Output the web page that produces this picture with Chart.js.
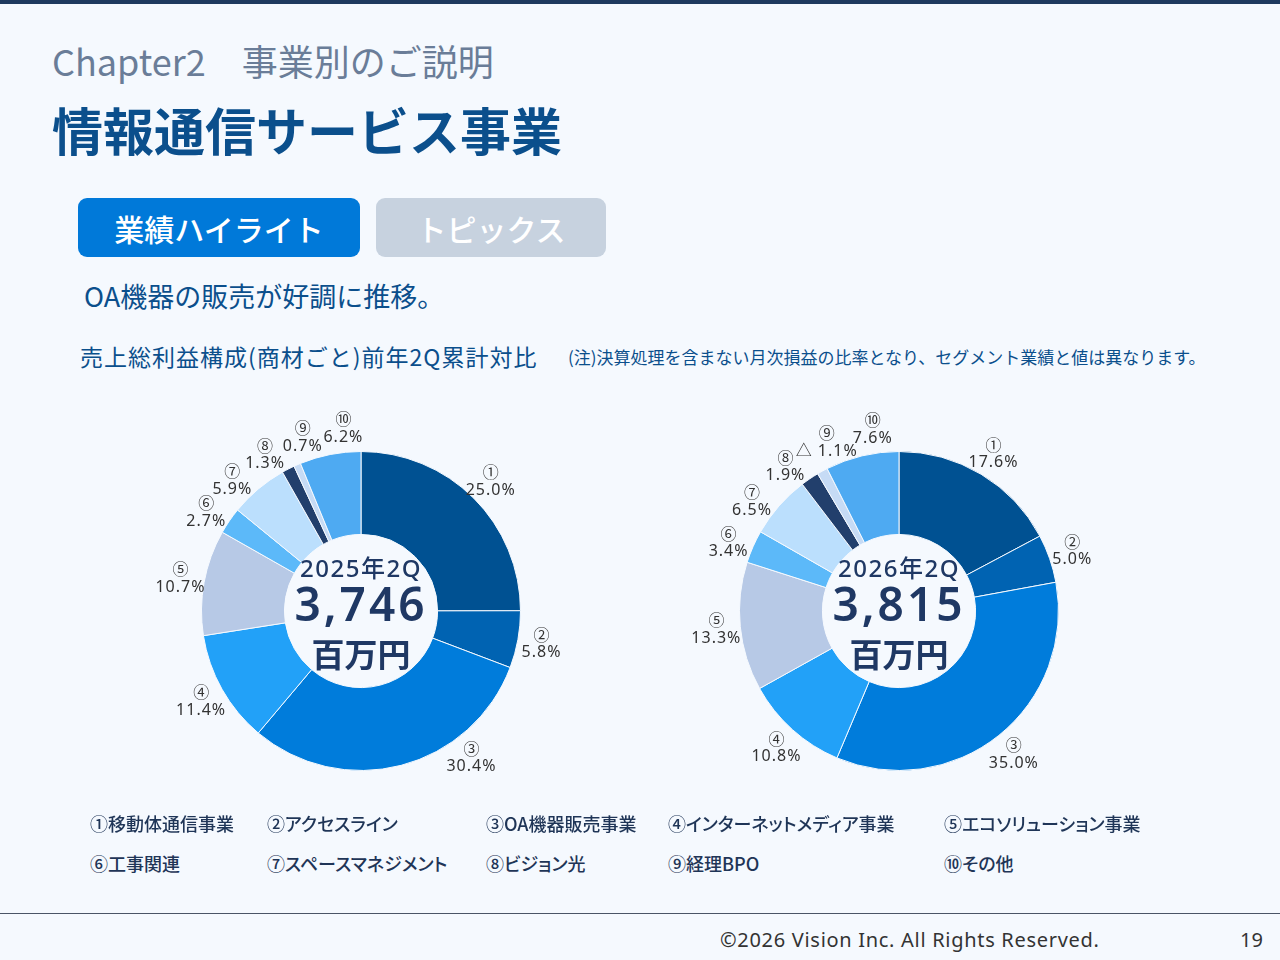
<!DOCTYPE html>
<html lang="ja">
<head>
<meta charset="UTF-8">
<title>情報通信サービス事業</title>
<script src="https://cdn.jsdelivr.net/npm/chart.js"></script>
<style>
    html, body {
        margin: 0;
        padding: 0;
    }
    body {
        width: 1280px;
        height: 960px;
        position: relative;
        overflow: hidden;
        background: #F5F9FE;
        font-family: "Noto Sans CJK JP", "Noto Sans", sans-serif;
    }
    .topline {
        position: absolute;
        left: 0;
        top: 0;
        width: 1280px;
        height: 4px;
        background: #1E3A5F;
    }
    .abs {
        position: absolute;
        white-space: nowrap;
        line-height: 1;
    }
    .chapter {
        left: 52px;
        top: 42px;
        font-size: 36px;
        color: #6A7D98;
    }
    .title {
        left: 52px;
        top: 104px;
        font-size: 51px;
        font-weight: bold;
        color: #0B4F8C;
    }
    .tab {
        top: 198px;
        height: 59px;
        border-radius: 9px;
        color: #FFFFFF;
        font-size: 30px;
        font-weight: 500;
        display: flex;
        align-items: center;
        justify-content: center;
    }
    .tab.on { left: 78px; width: 282px; background: #0079D9; }
    .tab.off { left: 376px; width: 230px; background: #C7D2DF; }
    .lead {
        left: 84px;
        top: 282px;
        font-size: 27px;
        color: #0B4F8C;
    }
    .sub {
        left: 80px;
        top: 345px;
        font-size: 23px;
        letter-spacing: 1px;
        color: #0B4F8C;
    }
    .note {
        left: 568px;
        top: 348px;
        font-size: 17px;
        color: #0B4F8C;
    }
    .chartbox {
        position: absolute;
        top: 411px;
        width: 480px;
        height: 400px;
    }
    .legend {
        font-size: 18px;
        font-weight: 500;
        color: #1F3557;
        font-feature-settings: "palt";
    }
    .footline {
        position: absolute;
        left: 0;
        top: 913px;
        width: 1280px;
        height: 1px;
        background: #4A5566;
    }
    .copy {
        left: 720px;
        top: 930px;
        font-size: 20px;
        letter-spacing: 0.7px;
        color: #333333;
        font-family: "Noto Sans", sans-serif;
    }
    .page {
        left: 1240px;
        top: 930px;
        font-size: 20px;
        color: #333333;
        font-family: "Noto Sans", sans-serif;
    }
</style>
</head>
<body>
    <div class="topline"></div>
    <div class="abs chapter">Chapter2　事業別のご説明</div>
    <div class="abs title">情報通信サービス事業</div>
    <div class="abs tab on">業績ハイライト</div>
    <div class="abs tab off">トピックス</div>
    <div class="abs lead">OA機器の販売が好調に推移。</div>
    <div class="abs sub">売上総利益構成(商材ごと)前年2Q累計対比</div>
    <div class="abs note">(注)決算処理を含まない月次損益の比率となり、セグメント業績と値は異なります。</div>

    <div class="chartbox" style="left:121px;"><canvas id="chart2025"></canvas></div>
    <div class="chartbox" style="left:659px;"><canvas id="chart2026"></canvas></div>

    <div id="legend"></div>

    <div class="footline"></div>
    <div class="abs copy">©2026 Vision Inc. All Rights Reserved.</div>
    <div class="abs page">19</div>

<script>
    // 商材（凡例）
    const marks = ['①', '②', '③', '④', '⑤', '⑥', '⑦', '⑧', '⑨', '⑩'];
    const categories = ['移動体通信事業', 'アクセスライン', 'OA機器販売事業', 'インターネットメディア事業', 'エコソリューション事業',
        '工事関連', 'スペースマネジメント', 'ビジョン光', '経理BPO', 'その他'];

    // 構成比（%）
    const share2025 = [25.0, 5.8, 30.4, 11.4, 10.7, 2.7, 5.9, 1.3, 0.7, 6.2];
    const share2026 = [17.6, 5.0, 35.0, 10.8, 13.3, 3.4, 6.5, 1.9, -1.1, 7.6];

    // 中央表示
    const periods = ['2025年2Q', '2026年2Q'];
    const totals = ['3,746', '3,815'];
    const unit = '百万円';

    const colors = ['#005192', '#0063B2', '#007CDB', '#22A1F8', '#B7C9E6',
        '#5CB9F9', '#BBDFFD', '#223F6C', '#C6DBF5', '#4EAAF2'];

    // 凡例
    const legendCols = [90, 267, 486, 668, 944];
    const legendRows = [814, 854];
    const legendEl = document.getElementById('legend');
    categories.forEach((name, i) => {
        const d = document.createElement('div');
        d.className = 'abs legend';
        d.style.left = legendCols[i % 5] + 'px';
        d.style.top = legendRows[Math.floor(i / 5)] + 'px';
        d.textContent = marks[i] + name;
        legendEl.appendChild(d);
    });

    function fmt(v) {
        return v < 0 ? '△ ' + Math.abs(v).toFixed(1) + '%' : v.toFixed(1) + '%';
    }

    const DEG = Math.PI / 180;

    // 外側ラベル（番号＋構成比）
    const outerLabels = {
        id: 'outerLabels',
        afterDatasetsDraw(chart, args, opts) {
            const ctx = chart.ctx;
            const meta = chart.getDatasetMeta(0);
            const raw = opts.values;
            // 12時から時計回りの角度（度）
            const ang = meta.data.map(arc => ((arc.startAngle + arc.endAngle) / 2 + Math.PI / 2) / DEG);
            // 下側は凡例と重ならないよう寄せる
            for (let i = 0; i < ang.length; i++) {
                if (ang[i] > 143 && ang[i] <= 180) ang[i] = 143;
                if (ang[i] > 180 && ang[i] < 217) ang[i] = 217;
            }
            // 小さい扇形のラベルが重ならないよう間隔をとる
            const minSep = opts.minSep;
            for (let k = 0; k < 40; k++) {
                for (let i = 5; i < ang.length - 1; i++) {
                    const gap = ang[i + 1] - ang[i];
                    if (gap < minSep) {
                        ang[i] -= (minSep - gap) / 2;
                        ang[i + 1] += (minSep - gap) / 2;
                    }
                }
            }
            ctx.save();
            ctx.fillStyle = '#333333';
            ctx.textAlign = 'center';
            ctx.textBaseline = 'middle';
            meta.data.forEach((arc, i) => {
                const a = ang[i] * DEG;
                const r = arc.outerRadius + 24;
                const x = arc.x + r * Math.sin(a);
                const y = arc.y - r * Math.cos(a);
                ctx.letterSpacing = '0px';
                ctx.font = '16px "Noto Sans CJK JP", sans-serif';
                ctx.fillText(marks[i], x, y - 9);
                ctx.letterSpacing = '1px';
                ctx.font = '16px "Noto Sans", "Noto Sans CJK JP", sans-serif';
                ctx.fillText(fmt(raw[i]), x, y + 9);
            });
            ctx.restore();
        }
    };

    // 中央テキスト
    const centerText = {
        id: 'centerText',
        afterDatasetsDraw(chart, args, opts) {
            const ctx = chart.ctx;
            const arc = chart.getDatasetMeta(0).data[0];
            const cx = arc.x, cy = arc.y;
            ctx.save();
            ctx.fillStyle = '#1F3864';
            ctx.textAlign = 'center';
            ctx.textBaseline = 'middle';
            ctx.letterSpacing = '1.5px';
            ctx.font = '500 24px "Noto Sans", "Noto Sans CJK JP", sans-serif';
            ctx.fillText(opts.period, cx, cy - 41);
            ctx.letterSpacing = '3px';
            ctx.font = '600 46px "Noto Sans", "Noto Sans CJK JP", sans-serif';
            ctx.fillText(opts.total, cx, cy - 3);
            ctx.letterSpacing = '0px';
            ctx.font = 'bold 33px "Noto Sans CJK JP", sans-serif';
            ctx.fillText(unit, cx, cy + 43);
            ctx.restore();
        }
    };

    function makeDonut(id, values, idx, minSep) {
        const ctx = document.getElementById(id).getContext('2d');
        new Chart(ctx, {
            type: 'doughnut',
            data: {
                labels: categories,
                datasets: [{
                    data: values.map(v => Math.abs(v)),
                    backgroundColor: colors,
                    borderColor: '#F5F9FE',
                    borderWidth: 1
                }]
            },
            options: {
                responsive: true,
                maintainAspectRatio: false,
                animation: false,
                cutout: '48%',
                layout: { padding: { left: 80, right: 80, top: 40, bottom: 40 } },
                plugins: {
                    legend: { display: false },
                    tooltip: { enabled: false },
                    outerLabels: { values: values, minSep: minSep },
                    centerText: { period: periods[idx], total: totals[idx] }
                }
            },
            plugins: [outerLabels, centerText]
        });
    }

    makeDonut('chart2025', share2025, 0, 13);
    makeDonut('chart2026', share2026, 1, 15);
</script>
</body>
</html>
